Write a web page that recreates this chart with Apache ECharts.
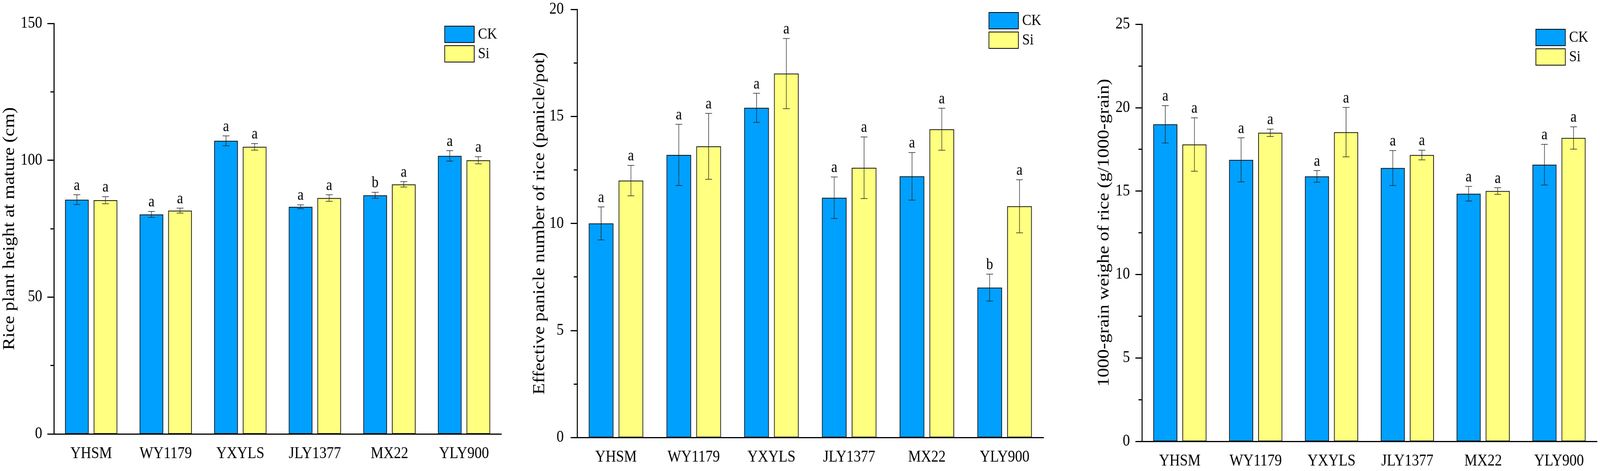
<!DOCTYPE html>
<html>
<head>
<meta charset="utf-8">
<script src="https://cdn.jsdelivr.net/npm/echarts@6/dist/echarts.min.js"></script>
<style>
  html, body { margin: 0; padding: 0; background: #fff; overflow: hidden; }
  #main { width: 4663px; height: 1207px; transform-origin: 0 0; }
</style>
</head>
<body>
<div id="main"></div>
<script>
var categories = ['YHSM', 'WY1179', 'YXYLS', 'JLY1377', 'MX22', 'YLY900'];

// plant height at mature (cm)
var heightTicks = [0, 50, 100, 150];
var heightCK = [85.6, 80.2, 107.1, 83.0, 87.2, 101.6];
var heightCKErr = [1.8, 1.1, 1.8, 0.7, 1.1, 1.9];
var heightCKSig = ['a', 'a', 'a', 'a', 'b', 'a'];
var heightSi = [85.4, 81.6, 104.9, 86.2, 91.2, 100.0];
var heightSiErr = [1.3, 0.9, 1.2, 1.2, 1.0, 1.3];
var heightSiSig = ['a', 'a', 'a', 'a', 'a', 'a'];

// effective panicle number (panicle/pot)
var panicleTicks = [0, 5, 10, 15, 20];
var panicleCK = [10.0, 13.2, 15.4, 11.2, 12.2, 7.0];
var panicleCKErr = [0.77, 1.43, 0.68, 0.97, 1.11, 0.63];
var panicleCKSig = ['a', 'a', 'a', 'a', 'a', 'b'];
var panicleSi = [12.0, 13.6, 17.0, 12.6, 14.4, 10.8];
var panicleSiErr = [0.71, 1.54, 1.64, 1.44, 0.98, 1.24];
var panicleSiSig = ['a', 'a', 'a', 'a', 'a', 'a'];

// 1000-grain weight (g)
var grainTicks = [0, 5, 10, 15, 20, 25];
var grainCK = [19.0, 16.87, 15.88, 16.38, 14.84, 16.58];
var grainCKErr = [1.12, 1.32, 0.35, 1.05, 0.44, 1.22];
var grainCKSig = ['a', 'a', 'a', 'a', 'a', 'a'];
var grainSi = [17.79, 18.49, 18.53, 17.16, 15.0, 18.18];
var grainSiErr = [1.6, 0.22, 1.48, 0.29, 0.2, 0.67];
var grainSiSig = ['a', 'a', 'a', 'a', 'a', 'a'];

var FONT = '"Liberation Serif", "Times New Roman", serif';
var BLUE = '#00A0FF';
var YELLOW = '#FFFF80';
var BAR_W = 0.317;
var BAR_GAP = 0.21;

// the chart is laid out at 4663 x 1207; squeeze it to the real window if that is smaller
var el = document.getElementById('main');
var sx = (window.innerWidth || 4663) / 4663, sy = (window.innerHeight || 1207) / 1207;
el.style.transform = 'scale(' + sx + ',' + sy + ')';

function errorBars(vals, errs, sig, side) {
    return function (params, api) {
        var i = params.dataIndex;
        var band = api.size([1, 0])[0];
        var bw = band * BAR_W;
        var x = api.coord([i, vals[i]])[0] + side * bw * (1 + BAR_GAP) / 2;
        var top = api.coord([i, vals[i] + errs[i]])[1];
        var bot = api.coord([i, vals[i] - errs[i]])[1];
        var cap = 10;
        var ls = { stroke: '#222', lineWidth: 1.5 };
        return {
            type: 'group',
            children: [
                { type: 'line', shape: { x1: x, y1: top, x2: x, y2: bot }, style: ls },
                { type: 'line', shape: { x1: x - cap, y1: top, x2: x + cap, y2: top }, style: ls },
                { type: 'line', shape: { x1: x - cap, y1: bot, x2: x + cap, y2: bot }, style: ls },
                {
                    type: 'text', x: x, y: top - 3,
                    style: { text: sig[i], fill: '#000', fontSize: 40, fontFamily: FONT, align: 'center', verticalAlign: 'bottom' }
                }
            ]
        };
    };
}

var option = { animation: false, backgroundColor: '#fff', grid: [], xAxis: [], yAxis: [], series: [], legend: [] };

function addPanel(idx, box, legendPos, yName, nameGap, labelMargin, ticks, ck, ckErr, ckSig, si, siErr, siSig) {
    option.grid.push({ left: box[0], top: box[1], width: box[2], height: box[3], containLabel: false });

    // labelled axis, long ticks under each category
    option.xAxis.push({
        type: 'category', gridIndex: idx, position: 'bottom', data: categories,
        axisLine: { lineStyle: { color: '#000', width: 3 } },
        axisTick: { alignWithLabel: true, length: 19, lineStyle: { color: '#000', width: 3 } },
        axisLabel: { color: '#000', fontSize: 42, fontFamily: FONT, margin: 30 }
    });
    // short ticks on the category boundaries
    option.xAxis.push({
        type: 'category', gridIndex: idx, position: 'bottom', data: categories,
        axisLine: { show: false },
        axisTick: { length: 9, lineStyle: { color: '#000', width: 3 } },
        axisLabel: { show: false }
    });

    option.yAxis.push({
        type: 'value', gridIndex: idx,
        min: ticks[0], max: ticks[ticks.length - 1], interval: ticks[1] - ticks[0],
        name: yName, nameLocation: 'middle', nameRotate: 90, nameGap: nameGap,
        nameTextStyle: { color: '#000', fontSize: 48, fontFamily: FONT },
        axisLine: { show: true, lineStyle: { color: '#000', width: 3 } },
        axisTick: { show: true, length: 19, lineStyle: { color: '#000', width: 3 } },
        minorTick: { show: true, splitNumber: 2, length: 10, lineStyle: { color: '#000', width: 3 } },
        splitLine: { show: false },
        axisLabel: { color: '#000', fontSize: 42, fontFamily: FONT, margin: labelMargin }
    });

    var barStyle = { borderColor: '#111', borderWidth: 2 };
    option.series.push({
        type: 'bar', name: 'CK', xAxisIndex: idx * 2, yAxisIndex: idx, data: ck,
        barWidth: (BAR_W * 100) + '%', barGap: (BAR_GAP * 100) + '%',
        itemStyle: Object.assign({ color: BLUE }, barStyle)
    });
    option.series.push({
        type: 'bar', name: 'Si', xAxisIndex: idx * 2, yAxisIndex: idx, data: si,
        barWidth: (BAR_W * 100) + '%', barGap: (BAR_GAP * 100) + '%',
        itemStyle: Object.assign({ color: YELLOW }, barStyle)
    });
    option.series.push({
        type: 'custom', xAxisIndex: idx * 2, yAxisIndex: idx, z: 5, silent: true,
        data: ck.map(function (v, i) { return [i, v]; }),
        renderItem: errorBars(ck, ckErr, ckSig, -1)
    });
    option.series.push({
        type: 'custom', xAxisIndex: idx * 2, yAxisIndex: idx, z: 5, silent: true,
        data: si.map(function (v, i) { return [i, v]; }),
        renderItem: errorBars(si, siErr, siSig, 1)
    });

    option.legend.push({
        data: ['CK', 'Si'], orient: 'vertical', left: legendPos[0], top: legendPos[1],
        padding: 0, itemWidth: 86, itemHeight: 42, itemGap: 6, icon: 'rect', selectedMode: false,
        itemStyle: { borderColor: '#000', borderWidth: 2 },
        textStyle: { color: '#000', fontSize: 40, fontFamily: FONT, padding: [0, 0, 0, 6] }
    });
}

addPanel(0, [157, 60, 1304, 1052], [1295, 66], 'Rice plant height at mature (cm)', 105, 34,
    heightTicks, heightCK, heightCKErr, heightCKSig, heightSi, heightSiErr, heightSiSig);
addPanel(1, [1682, 24, 1359, 1097], [2881, 31], 'Effective panicle number of rice (panicle/pot)', 84, 39,
    panicleTicks, panicleCK, panicleCKErr, panicleCKSig, panicleSi, panicleSiErr, panicleSiSig);
addPanel(2, [3328, 62, 1326, 1069], [4475, 74], '1000-grain weighe of rice (g/1000-grain)', 86, 35,
    grainTicks, grainCK, grainCKErr, grainCKSig, grainSi, grainSiErr, grainSiSig);

var chart = echarts.init(el, null, { width: 4663, height: 1207 });
chart.setOption(option);
</script>
</body>
</html>
